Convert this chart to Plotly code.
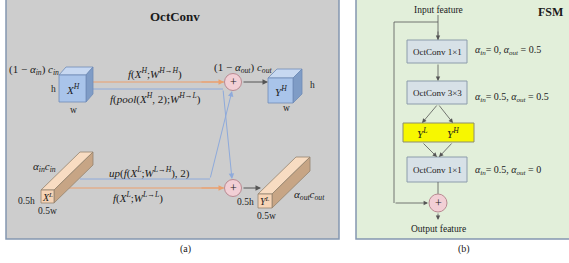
import plotly.graph_objects as go

# ---------------- data (text content) ----------------
panel_titles = ["OctConv", "FSM"]
captions = ["(a)", "(b)"]
fsm_blocks = ["OctConv 1×1", "OctConv 3×3", "OctConv 1×1"]
fsm_alpha_in = ["0", "0.5", "0.5"]
fsm_alpha_out = ["0.5", "0.5", "0"]
fsm_io = ["Input feature", "Output feature"]
fsm_mid = ["Y", "L", "Y", "H"]
high_paths = ["<i>f</i>(<i>X</i><sup><i>H</i></sup>;<i>W</i><sup><i>H</i>→<i>H</i></sup>)",
              "<i>f</i>(<i>pool</i>(<i>X</i><sup><i>H</i></sup>, 2);<i>W</i><sup><i>H</i>→<i>L</i></sup>)"]
low_paths = ["<i>up</i>(<i>f</i>(<i>X</i><sup><i>L</i></sup>;<i>W</i><sup><i>L</i>→<i>H</i></sup>), 2)",
             "<i>f</i>(<i>X</i><sup><i>L</i></sup>;<i>W</i><sup><i>L</i>→<i>L</i></sup>)"]
channel_labels = ["(1 − <i>α</i><sub><i>in</i></sub>) <i>c</i><sub><i>in</i></sub>",
                  "<i>α</i><sub><i>in</i></sub><i>c</i><sub><i>in</i></sub>",
                  "(1 − <i>α</i><sub><i>out</i></sub>) <i>c</i><sub><i>out</i></sub>",
                  "<i>α</i><sub><i>out</i></sub><i>c</i><sub><i>out</i></sub>"]
tensor_names = ["X", "H", "Y", "H", "X", "L", "Y", "L"]
dim_labels = ["h", "w", "0.5h", "0.5w"]

FONT = "Liberation Serif"
shapes = []
ann = []


def rect(x0, y0, x1, y1, fill, line, lw=1.0):
    shapes.append(dict(type="rect", x0=x0, y0=y0, x1=x1, y1=y1, fillcolor=fill,
                       line=dict(color=line, width=lw), layer="above"))


def seg(x0, y0, x1, y1, color, lw=1.0):
    shapes.append(dict(type="line", x0=x0, y0=y0, x1=x1, y1=y1,
                       line=dict(color=color, width=lw), layer="above"))


def poly(pts, fill, line, lw=0.8):
    p = "M " + " L ".join(f"{x},{y}" for x, y in pts) + " Z"
    shapes.append(dict(type="path", path=p, fillcolor=fill,
                       line=dict(color=line, width=lw), layer="above"))


def arrow(x0, y0, x1, y1, color, lw=1.0):
    ann.append(dict(x=x1, y=y1, ax=x0, ay=y0, xref="x", yref="y", axref="x", ayref="y",
                    text="", showarrow=True, arrowhead=2, arrowsize=1.1, arrowwidth=lw,
                    arrowcolor=color, standoff=0))


def text(x, y, s, size=10, color="#1a1a1a", xanchor="center", family=FONT):
    ann.append(dict(x=x, y=y, xref="x", yref="y", text=s, showarrow=False,
                    xanchor=xanchor, yanchor="middle",
                    font=dict(family=family, size=size, color=color)))


def cube(x0, y0, w, h, dx, dy, front, top, side, edge):
    poly([(x0, y0), (x0 + dx, y0 - dy), (x0 + w + dx, y0 - dy), (x0 + w, y0)], top, edge)
    poly([(x0 + w, y0), (x0 + w + dx, y0 - dy), (x0 + w + dx, y0 + h - dy), (x0 + w, y0 + h)], side, edge)
    poly([(x0, y0), (x0 + w, y0), (x0 + w, y0 + h), (x0, y0 + h)], front, edge)


def circle(cx, cy, r, fill, edge):
    shapes.append(dict(type="circle", x0=cx - r, x1=cx + r, y0=cy - r, y1=cy + r,
                       fillcolor=fill, line=dict(color=edge, width=1), layer="above"))
    text(cx, cy, "+", size=12, color="#222")


BORDER = "#8497b0"
ORANGE = "#eb9f6c"
BLUE = "#8eaadb"
DARK = "#555555"

# ---------------- panels ----------------
rect(6, -5, 339, 239, "#cdcdcd", BORDER, 1.5)
rect(356, -5, 580, 239, "#e2efda", BORDER, 1.5)

# ---------------- panel (a) ----------------
text(175, 16, f"<b>{panel_titles[0]}</b>", size=13)
text(185, 249, captions[0], size=10)

# paths
seg(93, 82, 224, 82, ORANGE)
arrow(200, 82, 224, 82, ORANGE)
seg(93, 89, 223, 89, BLUE)
arrow(223, 89, 232, 179, BLUE)
seg(80, 179, 210, 179, BLUE)
arrow(210, 179, 232, 91, BLUE)
seg(62, 188, 224, 188, ORANGE)
arrow(200, 188, 224, 188, ORANGE)
arrow(242, 82, 268, 82, DARK)
arrow(242, 188, 261, 188, DARK)

text(155, 73, high_paths[0], size=11)
text(155, 98, high_paths[1], size=11)
text(149, 172, low_paths[0], size=11)
text(138, 197, low_paths[1], size=11)

circle(233, 82, 8.5, "#f2cfd5", "#b98a92")
circle(233, 188, 8.5, "#f2cfd5", "#b98a92")

# high-frequency cubes
cube(59, 75, 27, 27, 7, 8, "#a9c4ea", "#c7d8f1", "#7f9cc6", "#6f8cb6")
cube(268, 78, 25, 25, 9, 9, "#a9c4ea", "#c7d8f1", "#7f9cc6", "#6f8cb6")
# low-frequency cuboids
cube(41, 190, 13, 13, 39, 38, "#f6d4b6", "#f8dcc2", "#c7a585", "#94846f")
cube(258, 194, 14, 14, 38, 37, "#f6d4b6", "#f8dcc2", "#c7a585", "#94846f")

text(72.5, 88.5, f"<i>{tensor_names[0]}</i><sup><i>{tensor_names[1]}</i></sup>", size=11)
text(280.5, 90.5, f"<i>{tensor_names[2]}</i><sup><i>{tensor_names[3]}</i></sup>", size=11)
text(47.5, 197, f"<i>{tensor_names[4]}</i><sup><i>{tensor_names[5]}</i></sup>", size=10)
text(265, 201, f"<i>{tensor_names[6]}</i><sup><i>{tensor_names[7]}</i></sup>", size=10)

text(34, 70, channel_labels[0], size=11)
text(44, 167, channel_labels[1], size=11)
text(243, 68, channel_labels[2], size=11)
text(309, 195, channel_labels[3], size=11)

text(53, 89, dim_labels[0], size=9.5)
text(73, 110, dim_labels[1], size=9.5)
text(312, 85, dim_labels[0], size=9.5)
text(286, 108, dim_labels[1], size=9.5)
text(26, 201, dim_labels[2], size=9.5)
text(47, 211, dim_labels[3], size=9.5)
text(245, 202, dim_labels[2], size=9.5)
text(266, 216, dim_labels[3], size=9.5)

# ---------------- panel (b) ----------------
text(550, 12, f"<b>{panel_titles[1]}</b>", size=12)
text(464, 249, captions[1], size=10)
text(438, 10, fsm_io[0], size=9.5)
text(438, 229, fsm_io[1], size=9.5)

# skip connection
seg(438, 15, 438, 40, DARK, 0.8)
arrow(438, 30, 438, 40, DARK, 0.8)
seg(438, 22, 394, 22, DARK, 0.8)
seg(394, 22, 394, 203, DARK, 0.8)
arrow(394, 203, 428, 203, DARK, 0.8)

boxes_y = [(40, 63), (81, 104), (157, 182)]
label_y = [50, 97, 170]
for (y0, y1), ly, name, ai, ao in zip(boxes_y, label_y, fsm_blocks, fsm_alpha_in, fsm_alpha_out):
    rect(407, y0, 467, y1, "#d7e1e7", "#8c9cab", 1)
    text(437, (y0 + y1) / 2, name, size=9)
    text(473, ly,
         f"<i>α</i><sub><i>in</i></sub>= {ai}, <i>α</i><sub><i>out</i></sub> = {ao}",
         size=10, xanchor="left")

arrow(438, 63, 438, 81, DARK, 0.8)
arrow(438, 104, 422, 123, DARK, 0.8)
arrow(438, 104, 453, 123, DARK, 0.8)
rect(403, 123, 474, 142, "#f7f700", "#8d8d70", 1)
text(422, 132.5, f"<i>{fsm_mid[0]}</i><sup><i>{fsm_mid[1]}</i></sup>", size=11)
text(453, 132.5, f"<i>{fsm_mid[2]}</i><sup><i>{fsm_mid[3]}</i></sup>", size=11)
arrow(422, 142, 437, 157, DARK, 0.8)
arrow(453, 142, 439, 157, DARK, 0.8)
seg(438, 182, 438, 194, DARK, 0.8)
circle(438, 203, 9, "#f2cfd5", "#b98a92")
arrow(438, 212, 438, 220, DARK, 0.8)

fig = go.Figure()
fig.update_layout(
    width=569, height=263, margin=dict(l=0, r=0, t=0, b=0),
    paper_bgcolor="white", plot_bgcolor="white",
    xaxis=dict(range=[0, 569], visible=False, fixedrange=True),
    yaxis=dict(range=[263, 0], visible=False, fixedrange=True),
    shapes=shapes, annotations=ann, showlegend=False,
)
fig.write_html("out.html", config={"displayModeBar": False},
               post_script="document.body.style.margin='0px';document.body.style.overflow='hidden';")
